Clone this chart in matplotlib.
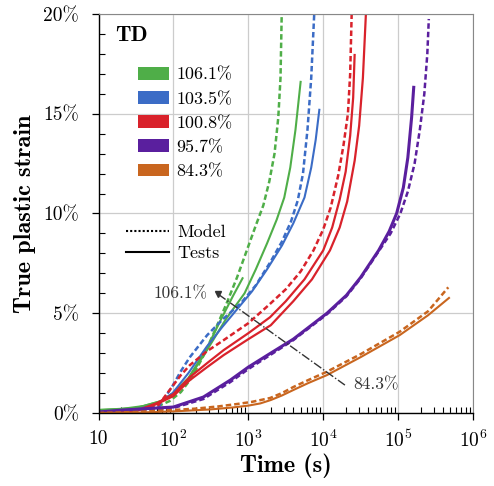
import numpy as np
import matplotlib
matplotlib.use('Agg')
import matplotlib.pyplot as plt
from matplotlib.patches import Patch
from matplotlib.lines import Line2D
from matplotlib.ticker import FixedLocator, FuncFormatter

plt.rcParams['font.family'] = ['cmr10', 'DejaVu Serif']
plt.rcParams['mathtext.fontset'] = 'cm'
plt.rcParams['axes.formatter.use_mathtext'] = True

# stress levels (legend) and colours
levels = ['106.1%', '103.5%', '100.8%', '95.7%', '84.3%']
colors = ['#4fae48', '#3b6cc6', '#d9222b', '#5a1f9e', '#c9661f']

# curves: log10(time in s) and true plastic strain in %
# 106.1%
g_mod_t = [1.0, 1.3, 1.6, 1.8, 1.95, 2.1, 2.25, 2.42, 2.55, 2.7, 2.85, 2.98, 3.1, 3.2, 3.28, 3.35, 3.4, 3.43, 3.446]
g_mod_e = [0.1, 0.12, 0.2, 0.35, 0.6, 1.05, 1.8, 3.0, 4.1, 5.4, 6.8, 8.15, 9.4, 10.4, 11.6, 13.0, 14.8, 16.8, 20.0]
g_t1_t = [1.0, 1.3, 1.6, 1.84, 2.0, 2.2, 2.44, 2.7, 2.95, 3.1, 3.25, 3.38, 3.48, 3.56, 3.63, 3.70]
g_t1_e = [0.15, 0.2, 0.35, 0.6, 1.0, 1.7, 3.1, 4.7, 6.0, 7.2, 8.5, 9.7, 10.8, 12.3, 14.2, 16.65]
g_t2_t = [1.0, 1.5, 1.84, 2.0, 2.2, 2.44, 2.65, 2.8, 2.93]
g_t2_e = [0.15, 0.25, 0.6, 1.0, 1.75, 3.2, 4.8, 5.9, 6.8]
# 103.5%
b_mod_t = [1.0, 1.5, 1.8, 1.98, 2.1, 2.22, 2.45, 2.66, 2.9, 3.1, 3.3, 3.45, 3.57, 3.66, 3.73, 3.79, 3.84, 3.88]
b_mod_e = [0.05, 0.1, 0.3, 1.3, 2.1, 2.8, 3.9, 4.7, 5.5, 6.4, 7.6, 8.6, 9.6, 10.65, 12.0, 14.2, 16.8, 20.0]
b_t1_t = [1.0, 1.5, 1.8, 1.99, 2.2, 2.44, 2.65, 2.85, 3.05, 3.25, 3.45, 3.6, 3.75, 3.84, 3.9, 3.95]
b_t1_e = [0.05, 0.15, 0.5, 1.0, 2.0, 3.3, 4.3, 5.2, 6.1, 7.2, 8.4, 9.5, 10.8, 12.3, 13.7, 15.25]
# 100.8%
r_mod_t = [1.0, 1.5, 1.8, 1.95, 2.1, 2.22, 2.45, 2.67, 3.0, 3.27, 3.5, 3.7, 3.87, 4.0, 4.1, 4.2, 4.27, 4.33, 4.36, 4.38]
r_mod_e = [0.0, 0.1, 0.4, 1.15, 1.9, 2.4, 3.1, 3.65, 4.5, 5.4, 6.2, 7.1, 8.15, 9.2, 10.3, 11.9, 13.4, 15.0, 17.0, 20.0]
r_t1_t = [1.0, 1.5, 1.78, 2.0, 2.22, 2.45, 2.67, 3.0, 3.29, 3.5, 3.75, 4.0, 4.12, 4.22, 4.3, 4.36, 4.4, 4.42]
r_t1_e = [0.0, 0.1, 0.5, 0.95, 1.8, 2.5, 3.15, 4.0, 4.8, 5.6, 6.7, 8.15, 9.3, 10.7, 12.1, 13.9, 15.8, 18.0]
r_t2_t = [1.0, 1.5, 1.78, 2.0, 2.22, 2.45, 2.67, 3.0, 3.3, 3.6, 3.85, 4.09, 4.22, 4.32, 4.42, 4.48, 4.53, 4.57]
r_t2_e = [0.0, 0.1, 0.45, 0.85, 1.65, 2.3, 2.9, 3.7, 4.4, 5.6, 6.7, 8.15, 9.3, 10.6, 12.65, 14.4, 16.8, 20.0]
# 95.7%
p_mod_t = [1.0, 1.5, 2.0, 2.4, 2.76, 3.0, 3.29, 3.6, 4.05, 4.31, 4.5, 4.74, 4.9, 5.03, 5.13, 5.22, 5.29, 5.35, 5.39, 5.41]
p_mod_e = [0.0, 0.1, 0.25, 0.7, 1.55, 2.2, 2.9, 3.65, 4.95, 5.85, 6.75, 8.1, 9.0, 10.0, 11.1, 12.5, 14.2, 16.0, 18.0, 19.75]
p_t1_t = [1.0, 1.33, 2.0, 2.4, 2.76, 3.0, 3.29, 3.6, 4.05, 4.31, 4.5, 4.74, 4.88, 4.98, 5.07, 5.13, 5.18, 5.21]
p_t1_e = [0.05, 0.15, 0.3, 0.8, 1.65, 2.3, 2.98, 3.7, 5.0, 5.9, 6.8, 8.15, 9.1, 10.0, 11.3, 12.8, 14.8, 16.4]
# 84.3%
o_mod_t = [1.0, 1.5, 2.0, 2.3, 2.6, 2.85, 3.05, 3.29, 3.45, 3.6, 3.8, 4.05, 4.5, 5.02, 5.4, 5.67]
o_mod_e = [0.0, 0.05, 0.15, 0.22, 0.33, 0.45, 0.56, 0.75, 1.0, 1.3, 1.65, 2.07, 2.95, 4.07, 5.1, 6.3]
o_t1_t = [1.0, 1.5, 2.0, 2.5, 2.8, 3.0, 3.16, 3.3, 3.45, 3.6, 3.8, 4.05, 4.5, 5.02, 5.4, 5.69]
o_t1_e = [0.0, 0.02, 0.08, 0.18, 0.28, 0.37, 0.48, 0.65, 0.88, 1.15, 1.5, 1.9, 2.8, 3.9, 4.9, 5.8]

models = [(g_mod_t, g_mod_e), (b_mod_t, b_mod_e), (r_mod_t, r_mod_e),
          (p_mod_t, p_mod_e), (o_mod_t, o_mod_e)]
tests = [[(g_t1_t, g_t1_e), (g_t2_t, g_t2_e)],
         [(b_t1_t, b_t1_e)],
         [(r_t1_t, r_t1_e), (r_t2_t, r_t2_e)],
         [(p_t1_t, p_t1_e)],
         [(o_t1_t, o_t1_e)]]
test_lw = [1.5, 1.5, 1.6, 2.2, 1.5]

# dash-dot guide from 106.1% to 84.3%
guide_t = [2.60, 4.29]
guide_e = [5.95, 1.4]

fig = plt.figure(figsize=(4.94, 4.86), dpi=100)
ax = fig.add_axes([0.1994, 0.1502, 0.7581, 0.8210])

for c, (mt, me), tl, lw in zip(colors, models, tests, test_lw):
    for tt, te in tl:
        ax.plot(10**np.array(tt), te, color=c, lw=lw, solid_capstyle='butt')
    ax.plot(10**np.array(mt), me, color=c, lw=1.8, ls=(0, (2.2, 1.2)))

ax.plot(10**np.array(guide_t), guide_e, color='#333333', lw=1.0, ls='-.')
ax.plot(10**guide_t[0], guide_e[0], marker='v', ms=4, color='#333333')
ax.text(10**2.09, 6.0, '106.1%', fontsize=12.5, color='#333333', ha='center', va='center')
ax.text(10**4.40, 1.4, '84.3%', fontsize=12.5, color='#333333', ha='left', va='center')

ax.set_xscale('log')
ax.set_xlim(10, 1e6)
ax.set_ylim(0, 20)
ax.xaxis.set_major_locator(FixedLocator([10, 1e2, 1e3, 1e4, 1e5, 1e6]))
ax.xaxis.set_major_formatter(FuncFormatter(
    lambda v, p: '10' if v < 20 else r'$10^{%d}$' % round(np.log10(v))))
ax.set_yticks([0, 5, 10, 15, 20])
ax.set_yticks(np.arange(0, 20, 1), minor=True)
ax.yaxis.set_major_formatter(FuncFormatter(lambda v, p: '%d%%' % v))

ax.grid(True, which='major', color='#cccccc', lw=0.9)
ax.set_axisbelow(True)
ax.tick_params(which='major', direction='out', length=5, width=0.9, labelsize=14)
ax.tick_params(axis='y', which='major', pad=9)
ax.tick_params(axis='x', which='major', pad=7)
ax.tick_params(which='minor', direction='in', length=4, width=0.8)
for s in ['top', 'right']:
    ax.spines[s].set_color('#888888')
for s in ['left', 'bottom']:
    ax.spines[s].set_color('black')
    ax.spines[s].set_linewidth(1.0)

ax.set_xlabel('Time (s)', fontsize=17.5, family='cmb10', labelpad=2)
ax.set_ylabel('True plastic strain', fontsize=17.5, family='cmb10', labelpad=5)

ax.text(0.044, 0.945, 'TD', fontsize=16, family='cmb10', transform=ax.transAxes,
        ha='left', va='center')

h1 = [Patch(facecolor=c, edgecolor='none') for c in colors]
leg1 = ax.legend(h1, levels, loc='upper left', bbox_to_anchor=(0.105, 0.867),
                 frameon=False, fontsize=13, handlelength=1.7, handleheight=0.7,
                 handletextpad=0.45, labelspacing=0.47, borderpad=0, borderaxespad=0)
ax.add_artist(leg1)
h2 = [Line2D([], [], color='black', lw=1.5, ls=(0, (1, 1))),
      Line2D([], [], color='black', lw=1.5)]
ax.legend(h2, ['Model', 'Tests'], loc='upper left', bbox_to_anchor=(0.073, 0.472),
          frameon=False, fontsize=13, handlelength=2.4, handletextpad=0.45,
          labelspacing=0.27, borderpad=0, borderaxespad=0)

fig.savefig('out.png', dpi=100)
